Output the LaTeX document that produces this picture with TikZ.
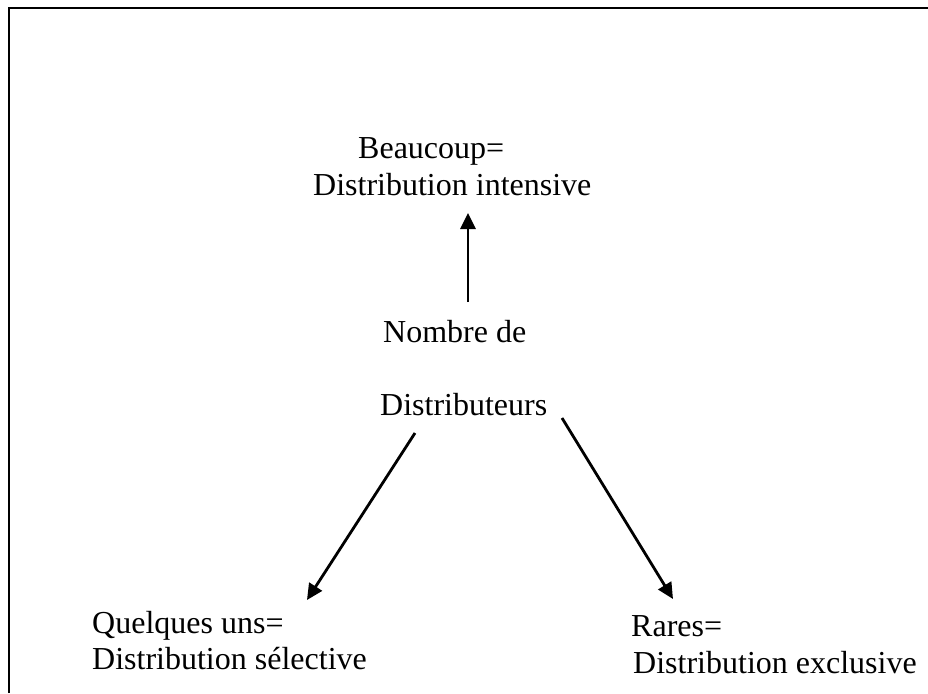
\documentclass[tikz,border=0pt]{standalone}
\usepackage{fontspec}
\setmainfont{Liberation Serif}
\usetikzlibrary{arrows.meta,calc}

\tikzset{
  label/.style={anchor=base west, inner sep=0pt, font=\fontsize{32}{37}\selectfont},
  arr/.style={line width=2.8pt, -{Triangle[length=16pt,width=15pt]}},
  frame/.style={line width=2.3pt}
}

\begin{document}
\begin{tikzpicture}[x=1pt,y=-1pt]
  \useasboundingbox (0,0) rectangle (928,693);

  % open frame: top and left edges only
  \draw[frame] (9.3,693) -- (9.3,7.7) -- (928,7.7);

  % labels
  \node[label] (beaucoup)  at (358,158) {Beaucoup=};
  \node[label] (intensive) at (313,195) {Distribution intensive};
  \node[label] (nombre)    at (383,342) {Nombre de};
  \node[label] (distrib)   at (380,415) {Distributeurs};
  \node[label] (quelques)  at (92,633)  {Quelques uns=};
  \node[label] (selective) at (92,669)  {Distribution sélective};
  \node[label] (rares)     at (631,636) {Rares=};
  \node[label] (exclusive) at (633,673) {Distribution exclusive};

  % arrows
  \draw[arr] ($(nombre.base west)+(85,-40)$) -- ($(intensive.base west)+(155,18)$);
  \draw[arr] ($(distrib.base west)+(35,18)$) -- ($(quelques.base west)+(215,-33)$);
  \draw[arr] ($(distrib.base west)+(182,3)$) -- ($(rares.base west)+(42,-37)$);
\end{tikzpicture}
\end{document}
